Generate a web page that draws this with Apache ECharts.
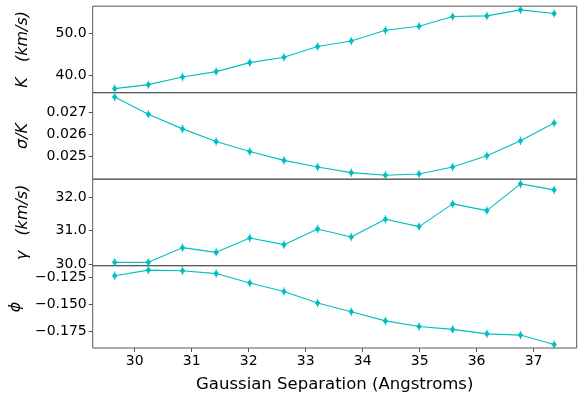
<!DOCTYPE html>
<html>
<head>
<meta charset="utf-8">
<script src="https://cdn.jsdelivr.net/npm/echarts@6/dist/echarts.min.js"></script>
<style>
  html, body { margin: 0; padding: 0; background: #fff; }
  #chart { width: 586px; height: 394px; }
</style>
</head>
<body>
<div id="chart"></div>
<script>
// Gaussian separation (Angstroms) for each fit
const separation = [29.65, 30.24, 30.84, 31.43, 32.02, 32.62, 33.21, 33.80, 34.40, 34.99, 35.58, 36.18, 36.77, 37.36];

// Fitted parameters at each separation
const kValues = [36.94, 37.88, 39.69, 40.95, 43.07, 44.33, 46.85, 48.18, 50.70, 51.64, 53.92, 54.08, 55.50, 54.63];
const sigmaOverK = [0.027685, 0.026909, 0.026253, 0.025686, 0.025238, 0.024836, 0.024538, 0.024284, 0.024165, 0.024224, 0.024538, 0.025045, 0.025716, 0.026521];
const gammaValues = [30.05, 30.05, 30.49, 30.35, 30.78, 30.58, 31.05, 30.81, 31.34, 31.12, 31.80, 31.60, 32.40, 32.22];
const phiValues = [-0.12325, -0.11793, -0.11853, -0.12119, -0.13005, -0.13803, -0.14867, -0.15694, -0.16551, -0.17083, -0.17349, -0.17763, -0.17881, -0.18768];

// Tick positions
const xTicks = [30, 31, 32, 33, 34, 35, 36, 37];
const kTicks = [40, 50];
const sigmaTicks = [0.025, 0.026, 0.027];
const gammaTicks = [30, 31, 32];
const phiTicks = [-0.175, -0.150, -0.125];

const panels = [
  { name: 'K   (km/s)', values: kValues, ticks: kTicks, min: 35.98, max: 56.36, fmt: v => v.toFixed(1) },
  { name: 'σ/K', values: sigmaOverK, ticks: sigmaTicks, min: 0.02399, max: 0.02788, fmt: v => v.toFixed(3) },
  { name: 'γ   (km/s)', values: gammaValues, ticks: gammaTicks, min: 29.95, max: 32.54, fmt: v => v.toFixed(1) },
  { name: 'ϕ', values: phiValues, ticks: phiTicks, min: -0.1909, max: -0.1138, fmt: v => v.toFixed(3).replace('-', '\u2212') }
];

const LINE = '#00BFBF';
const AXIS = '#555';
const FONT = 'DejaVu Sans';
const left = 92.7, right = 586 - 576.7;
const tops = [6.2, 92.7, 179.2, 265.7];
const h = 86.5;

const grids = [], xAxes = [], yAxes = [], series = [];
panels.forEach((p, i) => {
  const last = i === panels.length - 1;
  grids.push({ left: left, right: right, top: tops[i], height: h, show: true,
    borderColor: AXIS, borderWidth: 1, backgroundColor: 'transparent' });
  xAxes.push({
    type: 'value', gridIndex: i, min: 29.264, max: 37.756,
    axisLine: { show: false },
    splitLine: { show: false },
    axisTick: { show: last, length: 4, lineStyle: { color: AXIS }, customValues: xTicks },
    axisLabel: { show: last, customValues: xTicks, color: '#000', fontFamily: FONT, fontSize: 14, margin: 6 },
    name: last ? 'Gaussian Separation (Angstroms)' : '',
    nameLocation: 'middle', nameGap: 28,
    nameTextStyle: { color: '#000', fontFamily: FONT, fontSize: 16.5 }
  });
  yAxes.push({
    type: 'value', gridIndex: i, min: p.min, max: p.max,
    axisLine: { show: false },
    splitLine: { show: false },
    axisTick: { show: true, length: 4, lineStyle: { color: AXIS }, customValues: p.ticks },
    axisLabel: { customValues: p.ticks, formatter: p.fmt, color: '#000', fontFamily: FONT, fontSize: 14, margin: 6 },
    name: p.name, nameLocation: 'middle', nameRotate: 90, nameGap: 62,
    nameTextStyle: { color: '#000', fontFamily: FONT, fontSize: 16, fontStyle: 'italic' }
  });
  series.push({
    type: 'line', xAxisIndex: i, yAxisIndex: i,
    data: separation.map((x, j) => [x, p.values[j]]),
    symbol: 'path://M0,-5 L2.5,0 L0,5 L-2.5,0 Z M-0.4,-6 L0.4,-6 L0.4,6 L-0.4,6 Z',
    symbolSize: [5.5, 8.5],
    lineStyle: { color: LINE, width: 1.1 },
    itemStyle: { color: LINE },
    clip: false, animation: false
  });
});

const chart = echarts.init(document.getElementById('chart'), null, { renderer: 'canvas' });
chart.setOption({
  animation: false,
  backgroundColor: '#fff',
  grid: grids, xAxis: xAxes, yAxis: yAxes, series: series
});
</script>
</body>
</html>
